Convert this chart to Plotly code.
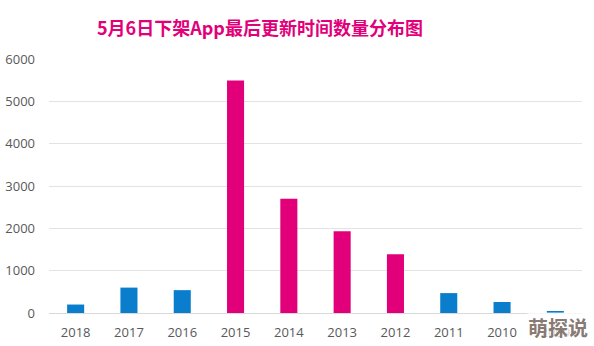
import plotly.graph_objects as go

years = ["2018", "2017", "2016", "2015", "2014", "2013", "2012", "2011", "2010", "2009"]
counts = [200, 600, 540, 5490, 2700, 1930, 1390, 470, 260, 30]
highlight = [False, False, False, True, True, True, True, False, False, False]

BLUE = "#0A7ECD"
PINK = "#E2007A"
colors = [PINK if h else BLUE for h in highlight]

fig = go.Figure(
    go.Bar(
        x=years,
        y=counts,
        marker=dict(color=colors, line=dict(width=0)),
        width=0.32,
    )
)

W, H = 594, 346
L, R, T, B = 49, 12, 59, 33
fig.update_layout(
    width=W,
    height=H,
    margin=dict(l=L, r=R, t=T, b=B, autoexpand=False),
    paper_bgcolor="white",
    plot_bgcolor="white",
    showlegend=False,
    font=dict(family="Open Sans, Noto Sans CJK SC, sans-serif", color="#595959", size=12),
)
fig.update_xaxes(
    type="category",
    automargin=False,
    showgrid=False,
    showline=False,
    ticks="",
    tickfont=dict(size=13, color="#595959"),
    ticklabelstandoff=10,
)
fig.update_yaxes(
    range=[0, 6000],
    dtick=1000,
    automargin=False,
    showgrid=True,
    gridcolor="#E3E3E3",
    gridwidth=1,
    zeroline=True,
    zerolinecolor="#D9D9D9",
    zerolinewidth=1,
    showline=False,
    ticks="",
    tickfont=dict(size=13, color="#595959"),
    ticklabelstandoff=13,
)

fig.add_annotation(
    text="<b>5月6日下架App最后更新时间数量分布图</b>",
    xref="paper", yref="paper",
    x=(260 - L) / (W - L - R), y=1 + (T - 27) / (H - T - B),
    xanchor="center", yanchor="middle",
    showarrow=False,
    font=dict(family="Noto Sans CJK SC, sans-serif", size=18, color=PINK),
)

fig.add_annotation(
    text="<b>萌探说</b>",
    xref="paper", yref="paper",
    x=(558 - L) / (W - L - R), y=-(327 - (H - B)) / (H - T - B),
    xanchor="center", yanchor="middle",
    showarrow=False,
    bgcolor="rgba(255,255,255,0.75)",
    borderpad=0,
    font=dict(family="Noto Sans CJK SC, sans-serif", size=20, color="rgba(120,105,95,0.9)"),
)

fig.write_html("out.html")
